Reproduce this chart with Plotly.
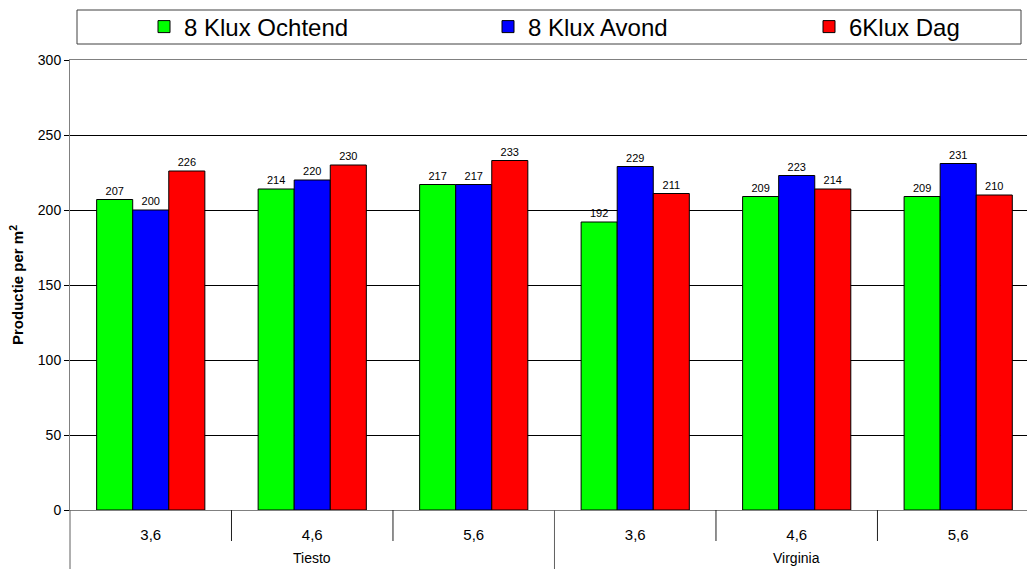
import plotly.graph_objects as go

# Data: production per m2 per light treatment, grouped by variety and setting
varieties = ["Tiesto", "Virginia"]
settings = ["3,6", "4,6", "5,6"]
series_names = ["8 Klux Ochtend", "8 Klux Avond", "6Klux Dag"]
ochtend = [207, 214, 217, 192, 209, 209]
avond = [200, 220, 217, 229, 223, 231]
dag = [226, 230, 233, 211, 214, 210]
colors = ["#00FF00", "#0000FF", "#FF0000"]

W, H = 1027, 569
ML, MR, MT, MB = 70, 0, 60, 59
FONT = "Arial, Liberation Sans, sans-serif"

n_groups = len(varieties) * len(settings)
x_idx = list(range(n_groups))
tick_text = [s for _ in varieties for s in settings]

fig = go.Figure()
legend_ids = ["legend", "legend2", "legend3"]
for name, vals, col, lg in zip(series_names, [ochtend, avond, dag], colors, legend_ids):
    fig.add_trace(go.Bar(
        x=x_idx, y=vals, name=name,
        marker=dict(color=col, line=dict(color="#000000", width=1)),
        text=vals, texttemplate="%{text}", textposition="outside",
        textfont=dict(family=FONT, size=11, color="#000000"),
        cliponaxis=False, legend=lg, showlegend=True,
    ))

# Group separators below the category axis
shapes = []
for b in [0.5, 1.5, 3.5, 4.5]:
    shapes.append(dict(type="line", xref="x", yref="paper", x0=b, x1=b,
                       y0=0, y1=-31 / 450, line=dict(color="#202020", width=1)))
per_var = len(settings)
for v in range(1, len(varieties)):
    b = v * per_var - 0.5
    shapes.append(dict(type="line", xref="x", yref="paper", x0=b, x1=b,
                       y0=0, y1=-MB / 450, line=dict(color="#606060", width=1)))
shapes.append(dict(type="line", xref="paper", yref="paper", x0=0, x1=0,
                   y0=0, y1=-MB / 450, line=dict(color="#606060", width=1)))
# Legend frame
shapes.append(dict(type="rect", xref="paper", yref="paper",
                   x0=(77 - ML) / 957, x1=(1021 - ML) / 957,
                   y0=(510 - 44) / 450, y1=(510 - 10) / 450,
                   line=dict(color="#404040", width=1), fillcolor="rgba(0,0,0,0)"))

annotations = []
for v, name in enumerate(varieties):
    annotations.append(dict(x=v * per_var + (per_var - 1) / 2, xref="x",
                            y=-48 / 450, yref="paper", text=name, showarrow=False,
                            font=dict(family=FONT, size=14, color="#000000"),
                            xanchor="center", yanchor="middle"))

legend_x = [158, 502, 823]
legend_common = dict(orientation="h", xref="container", yref="container",
                     xanchor="left", yanchor="middle", y=1 - 27 / H,
                     bgcolor="rgba(0,0,0,0)", borderwidth=0,
                     font=dict(family=FONT, size=24, color="#000000"))

fig.update_layout(
    width=W, height=H,
    margin=dict(l=ML, r=MR, t=MT, b=MB, autoexpand=False),
    paper_bgcolor="#FFFFFF", plot_bgcolor="#FFFFFF",
    barmode="group", bargap=0.33, bargroupgap=0,
    showlegend=True,
    font=dict(family=FONT, color="#000000"),
    shapes=shapes, annotations=annotations,
    legend=dict(x=(legend_x[0] - 14) / W, **legend_common),
    legend2=dict(x=(legend_x[1] - 14) / W, **legend_common),
    legend3=dict(x=(legend_x[2] - 14) / W, **legend_common),
    xaxis=dict(
        range=[-0.5, 5.426], tickmode="array", tickvals=x_idx, ticktext=tick_text,
        ticks="", showgrid=False, zeroline=False,
        showline=True, linecolor="#808080", linewidth=1, mirror=True,
        tickfont=dict(family=FONT, size=15, color="#000000"),
        ticklabelstandoff=11,
    ),
    yaxis=dict(
        range=[0, 300], dtick=50, tick0=0,
        showgrid=True, gridcolor="#000000", gridwidth=1,
        zeroline=False, showline=True, linecolor="#808080", linewidth=1,
        ticks="outside", ticklen=5, tickcolor="#000000",
        tickfont=dict(family=FONT, size=14, color="#000000"),
        title=dict(text="Productie per m<sup>2</sup>", standoff=10,
                   font=dict(family=FONT, size=15, color="#000000", weight="bold")),
    ),
)

fig.write_html("out.html")
